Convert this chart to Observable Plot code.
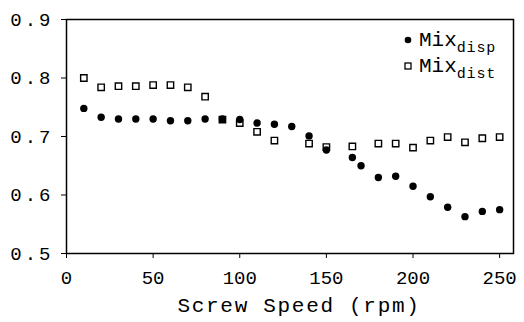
<!DOCTYPE html>
<html><head><meta charset="utf-8">
<script src="https://cdn.jsdelivr.net/npm/d3@7"></script>
<script src="https://cdn.jsdelivr.net/npm/@observablehq/plot@0.6"></script>
<style>body{margin:0;background:#fff}</style>
</head><body><div id="chart"></div>
<script>
const speedDisp = [10,20,30,40,50,60,70,80,90,100,110,120,130,140,150,165,170,180,190,200,210,220,230,240,250];
const mixDisp   = [0.748,0.733,0.730,0.730,0.730,0.727,0.727,0.730,0.730,0.729,0.723,0.721,0.717,0.701,0.677,0.664,0.650,0.630,0.632,0.615,0.597,0.579,0.563,0.572,0.575];
const speedDist = [10,20,30,40,50,60,70,80,90,100,110,120,140,150,165,180,190,200,210,220,230,240,250];
const mixDist   = [0.800,0.784,0.786,0.786,0.788,0.788,0.784,0.768,0.729,0.723,0.708,0.693,0.688,0.682,0.683,0.688,0.688,0.681,0.693,0.699,0.690,0.697,0.699];
const xTicks = [0,50,100,150,200,250];
const yTicks = [0.5,0.6,0.7,0.8,0.9];
const xLabel = "Screw Speed (rpm)";
const legendBase = "Mix";
const legendSubs = ["disp","dist"];

const disp = speedDisp.map((s,i)=>({speed:s, mix:mixDisp[i]}));
const dist = speedDist.map((s,i)=>({speed:s, mix:mixDist[i]}));

const chart = Plot.plot({
  width: 524, height: 322,
  marginLeft: 66, marginRight: 11, marginTop: 19, marginBottom: 69,
  style: {fontFamily: "Liberation Mono", fontSize: "19px", color: "black", background: "white"},
  x: {domain: [0, 258]},
  y: {domain: [0.5, 0.9]},
  marks: [
    Plot.axisX({ticks: xTicks, tickSize: 5, tickPadding: 12, label: null, tickFormat: d => String(d)}),
    Plot.axisY({ticks: yTicks, tickSize: 5, tickPadding: 8, label: null, tickFormat: d => d.toFixed(1)}),
    Plot.dot(dist, {x: "speed", y: "mix", symbol: "square", r: 3.6, stroke: "black", strokeWidth: 1.4, fill: "white"}),
    Plot.dot(disp, {x: "speed", y: "mix", r: 3.7, fill: "black"}),
    Plot.frame({stroke: "black", strokeWidth: 1.5}),
    Plot.text([xLabel], {frameAnchor: "bottom", dy: 58, dx: 9, fontSize: 21, fill: "black"})
  ]
});
document.getElementById("chart").appendChild(chart);

const svg = d3.select(chart);
svg.selectAll("g[aria-label='y-axis tick label'] text").style("letter-spacing", "3px");
svg.selectAll("g[aria-label='text'] text").style("letter-spacing", "1.7px");
const lg = svg.append("g").attr("text-anchor", "start");
const rows = [40, 66];
legendSubs.forEach((sub, i) => {
  const y = rows[i];
  if (i === 0) lg.append("circle").attr("cx", 408).attr("cy", y).attr("r", 3.3).attr("fill", "black");
  else lg.append("rect").attr("x", 405).attr("y", y - 3).attr("width", 6).attr("height", 6).attr("fill", "white").attr("stroke", "black").attr("stroke-width", 1.3);
  const t = lg.append("text").attr("x", 419).attr("y", y + 6).attr("font-family", "Liberation Mono").attr("font-size", 21).attr("fill", "black");
  t.append("tspan").text(legendBase);
  t.append("tspan").attr("font-size", 15).attr("letter-spacing", "0.8px").attr("dy", 6).text(sub);
});
</script>
</body></html>
